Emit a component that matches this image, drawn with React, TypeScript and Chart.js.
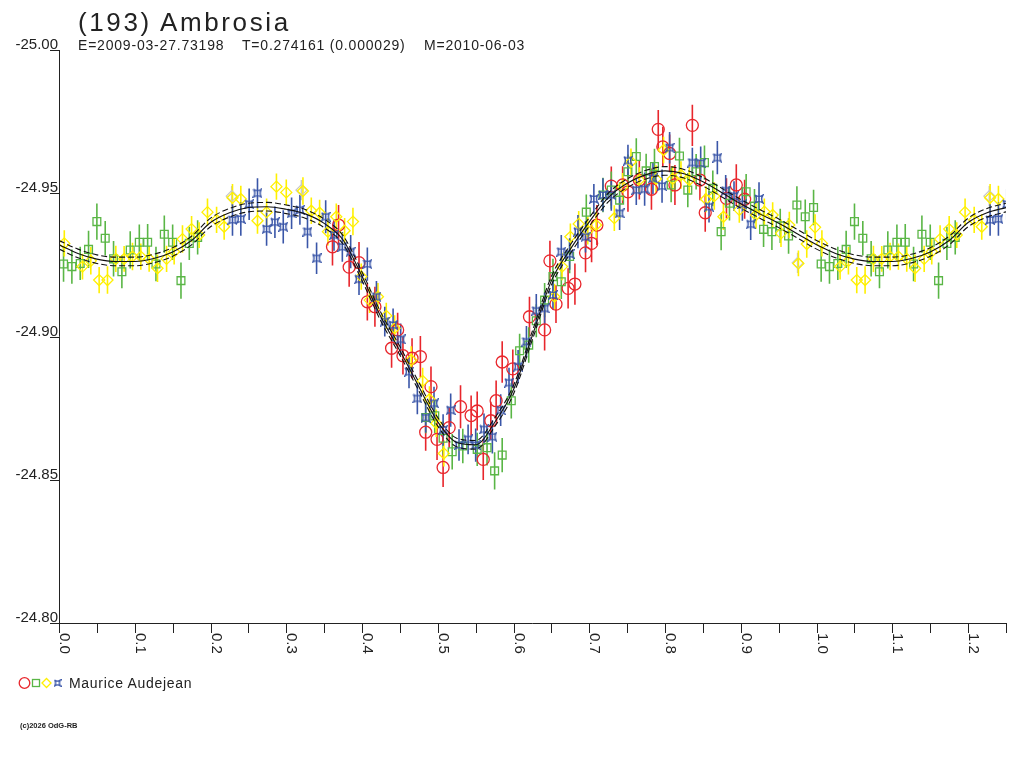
import { useEffect, useRef } from "react";
import { Chart, registerables } from "chart.js";

Chart.register(...registerables);

// [phase, magnitude, error]
type Obs = [number, number, number];

const RED_OBS: Obs[] = [
  [0.361, -24.9313, 0.0065], [0.369, -24.9389, 0.007], [0.383, -24.9242, 0.0068],
  [0.396, -24.9258, 0.0072], [0.407, -24.9121, 0.0065], [0.417, -24.9104, 0.007],
  [0.439, -24.8959, 0.0068], [0.447, -24.9023, 0.006], [0.454, -24.8933, 0.0066],
  [0.466, -24.8924, 0.007], [0.477, -24.893, 0.0072], [0.484, -24.8666, 0.0065],
  [0.491, -24.8825, 0.007], [0.499, -24.8641, 0.0072], [0.507, -24.8543, 0.0068],
  [0.515, -24.8682, 0.007], [0.53, -24.8755, 0.0075], [0.544, -24.8724, 0.007],
  [0.552, -24.874, 0.0068], [0.56, -24.8571, 0.0072], [0.57, -24.8706, 0.0066],
  [0.577, -24.8776, 0.007], [0.585, -24.8911, 0.0072], [0.599, -24.8887, 0.0068],
  [0.621, -24.9069, 0.007], [0.641, -24.9023, 0.0072], [0.648, -24.9264, 0.007],
  [0.656, -24.9113, 0.0066], [0.672, -24.9168, 0.007], [0.681, -24.9183, 0.0072],
  [0.695, -24.9292, 0.0068], [0.703, -24.9325, 0.0066], [0.71, -24.9389, 0.007],
  [0.729, -24.9525, 0.0068], [0.744, -24.9529, 0.0065], [0.751, -24.9505, 0.007],
  [0.766, -24.9546, 0.0068], [0.782, -24.9514, 0.0072], [0.791, -24.9723, 0.0068],
  [0.797, -24.9662, 0.007], [0.806, -24.9639, 0.0066], [0.813, -24.9529, 0.007],
  [0.836, -24.9737, 0.0072], [0.846, -24.9546, 0.007], [0.853, -24.9432, 0.0066],
  [0.881, -24.9482, 0.007], [0.894, -24.9529, 0.0072], [0.905, -24.9479, 0.0068],
];

const GREEN_OBS: Obs[] = [
  [0.006, -24.9253, 0.0062], [0.017, -24.9244, 0.006], [0.028, -24.9255, 0.0058],
  [0.039, -24.9304, 0.0065], [0.05, -24.9401, 0.0063], [0.061, -24.9343, 0.006],
  [0.072, -24.9271, 0.0062], [0.083, -24.9226, 0.0058], [0.094, -24.9302, 0.0065],
  [0.106, -24.9329, 0.0062], [0.117, -24.9329, 0.0064], [0.128, -24.9253, 0.006],
  [0.139, -24.9357, 0.0065], [0.15, -24.9329, 0.0062], [0.161, -24.9195, 0.0063],
  [0.172, -24.9325, 0.0058], [0.183, -24.9346, 0.006],
  [0.484, -24.8717, 0.0055], [0.496, -24.8723, 0.006], [0.507, -24.8645, 0.0058],
  [0.519, -24.8598, 0.0062], [0.533, -24.8618, 0.006], [0.552, -24.8606, 0.0058],
  [0.565, -24.8612, 0.0062], [0.575, -24.8531, 0.0065], [0.585, -24.8586, 0.006],
  [0.597, -24.8776, 0.0062], [0.608, -24.895, 0.006], [0.62, -24.897, 0.0062],
  [0.63, -24.9055, 0.0058], [0.641, -24.9127, 0.006], [0.652, -24.9209, 0.0062],
  [0.663, -24.9191, 0.006], [0.674, -24.9279, 0.0058], [0.696, -24.9434, 0.0062],
  [0.718, -24.9494, 0.006], [0.729, -24.9511, 0.0065], [0.74, -24.9476, 0.0062],
  [0.751, -24.9575, 0.006], [0.762, -24.9628, 0.0064], [0.775, -24.9578, 0.006],
  [0.786, -24.9593, 0.0062], [0.808, -24.9529, 0.006], [0.819, -24.963, 0.0064],
  [0.83, -24.9511, 0.006], [0.841, -24.9575, 0.0062], [0.852, -24.9607, 0.006],
  [0.863, -24.9517, 0.0062], [0.874, -24.9366, 0.0065], [0.885, -24.9465, 0.006],
  [0.907, -24.9505, 0.0062], [0.918, -24.9455, 0.006], [0.93, -24.9374, 0.0062],
  [0.941, -24.9366, 0.0064], [0.952, -24.9386, 0.006], [0.963, -24.9351, 0.0062],
  [0.974, -24.9459, 0.0065], [0.985, -24.9418, 0.006], [0.996, -24.945, 0.0062],
];

const YELLOW_OBS: Obs[] = [
  [0.007, -24.9325, 0.0046], [0.031, -24.9244, 0.0045], [0.042, -24.9264, 0.0048],
  [0.053, -24.9197, 0.0046], [0.064, -24.9197, 0.0048], [0.075, -24.9271, 0.0046],
  [0.086, -24.9271, 0.0045], [0.097, -24.9279, 0.0048], [0.108, -24.9279, 0.0046],
  [0.119, -24.9271, 0.0045], [0.13, -24.9238, 0.0048], [0.142, -24.9271, 0.0046],
  [0.152, -24.9296, 0.0045], [0.163, -24.934, 0.0048], [0.175, -24.9375, 0.0046],
  [0.185, -24.9354, 0.0045], [0.196, -24.9434, 0.0048], [0.208, -24.9407, 0.0046],
  [0.218, -24.9383, 0.0045], [0.229, -24.9484, 0.0048], [0.24, -24.948, 0.0046],
  [0.262, -24.9404, 0.0045], [0.274, -24.9434, 0.0048], [0.287, -24.9523, 0.0046],
  [0.3, -24.9503, 0.0045], [0.322, -24.9508, 0.0048], [0.333, -24.9439, 0.0046],
  [0.344, -24.9432, 0.0045], [0.355, -24.9366, 0.0048], [0.366, -24.9418, 0.0046],
  [0.377, -24.9369, 0.0045], [0.388, -24.9401, 0.0048], [0.399, -24.9209, 0.0046],
  [0.41, -24.9127, 0.0045], [0.421, -24.9139, 0.0048], [0.432, -24.9072, 0.0046],
  [0.443, -24.9029, 0.0045], [0.465, -24.8918, 0.0048], [0.48, -24.8845, 0.0046],
  [0.489, -24.8781, 0.0045], [0.498, -24.8697, 0.0048], [0.508, -24.8592, 0.0046],
  [0.654, -24.9139, 0.0045], [0.664, -24.9244, 0.0048], [0.675, -24.9348, 0.0046],
  [0.686, -24.9393, 0.0045], [0.698, -24.9369, 0.0048], [0.709, -24.9389, 0.0046],
  [0.733, -24.9413, 0.0045], [0.744, -24.9523, 0.0048], [0.755, -24.961, 0.0046],
  [0.766, -24.9546, 0.0045], [0.788, -24.955, 0.0048], [0.798, -24.9651, 0.0046],
  [0.81, -24.955, 0.0045], [0.821, -24.9564, 0.0048], [0.832, -24.9546, 0.0046],
  [0.854, -24.9479, 0.0045], [0.865, -24.949, 0.0048], [0.877, -24.9418, 0.0046],
  [0.898, -24.9442, 0.0045], [0.92, -24.9424, 0.0048], [0.931, -24.9436, 0.0046],
  [0.942, -24.9424, 0.0045], [0.953, -24.936, 0.0048], [0.964, -24.9389, 0.0046],
  [0.976, -24.9255, 0.0045], [0.987, -24.9323, 0.0048], [0.998, -24.9381, 0.0046],
];

const BLUE_OBS: Obs[] = [
  [0.229, -24.9407, 0.0055], [0.24, -24.941, 0.0058], [0.251, -24.9462, 0.0055],
  [0.262, -24.95, 0.0052], [0.274, -24.9375, 0.0058], [0.285, -24.9399, 0.0055],
  [0.296, -24.9383, 0.0058], [0.307, -24.943, 0.0055], [0.318, -24.9442, 0.0052],
  [0.328, -24.9366, 0.0058], [0.34, -24.9273, 0.0055], [0.352, -24.9418, 0.0058],
  [0.363, -24.9354, 0.0055], [0.374, -24.9313, 0.0052], [0.385, -24.9296, 0.0058],
  [0.396, -24.92, 0.0055], [0.407, -24.9253, 0.0058], [0.419, -24.9139, 0.0055],
  [0.43, -24.9052, 0.0052], [0.441, -24.904, 0.0058], [0.451, -24.899, 0.0055],
  [0.462, -24.8877, 0.0058], [0.473, -24.8784, 0.0055], [0.484, -24.8717, 0.0052],
  [0.495, -24.8767, 0.0058], [0.507, -24.8674, 0.0055], [0.517, -24.8743, 0.0058],
  [0.528, -24.8621, 0.0055], [0.54, -24.8641, 0.0052], [0.55, -24.8621, 0.0058],
  [0.561, -24.8676, 0.0055], [0.572, -24.865, 0.0058], [0.583, -24.8743, 0.0055],
  [0.594, -24.8839, 0.0052], [0.606, -24.8895, 0.0058], [0.617, -24.8982, 0.0055],
  [0.63, -24.909, 0.0058], [0.641, -24.9098, 0.0055], [0.652, -24.9145, 0.0052],
  [0.663, -24.9296, 0.0058], [0.674, -24.9288, 0.0055], [0.685, -24.9366, 0.0058],
  [0.695, -24.9348, 0.0055], [0.706, -24.948, 0.0052], [0.718, -24.9494, 0.0058],
  [0.729, -24.9494, 0.0055], [0.74, -24.943, 0.0058], [0.751, -24.9614, 0.0055],
  [0.762, -24.9511, 0.0052], [0.773, -24.9514, 0.0058], [0.784, -24.9552, 0.0055],
  [0.796, -24.9525, 0.0058], [0.806, -24.9659, 0.0055], [0.836, -24.9607, 0.0052],
  [0.847, -24.9605, 0.0058], [0.858, -24.9453, 0.0055], [0.869, -24.9624, 0.0058],
  [0.88, -24.9509, 0.0055], [0.891, -24.949, 0.0052], [0.902, -24.9462, 0.0058],
  [0.913, -24.9392, 0.0055], [0.924, -24.948, 0.0058],
];

const GRAY_OBS: Obs[] = [
  [0.228, -24.949, 0.0035], [0.32, -24.9511, 0.0035], [0.975, -24.9257, 0.0035],
];

const FIT_PHASE = [
  0, 0.025, 0.05, 0.075, 0.1, 0.125, 0.15, 0.175, 0.2, 0.225, 0.25, 0.275, 0.3, 0.325,
  0.35, 0.375, 0.4, 0.425, 0.45, 0.475, 0.5, 0.525, 0.55, 0.575, 0.6, 0.625, 0.65, 0.675,
  0.7, 0.725, 0.75, 0.775, 0.8, 0.825, 0.85, 0.875, 0.9, 0.925, 0.95, 0.975,
];
const FIT_MAG = [
  -24.932, -24.929, -24.927, -24.9262, -24.9262, -24.9272, -24.9295, -24.9335, -24.9398,
  -24.9432, -24.945, -24.9453, -24.9444, -24.9428, -24.9395, -24.9337, -24.921, -24.9068,
  -24.895, -24.8825, -24.8702, -24.863, -24.8622, -24.87, -24.8815, -24.9005, -24.9195,
  -24.9305, -24.94, -24.9485, -24.9535, -24.9565, -24.9578, -24.9568, -24.954, -24.9502,
  -24.9463, -24.9428, -24.9395, -24.9358,
];
const FIT_SIGMA = 0.0015;

const Y_TICKS = [-25.0, -24.95, -24.9, -24.85, -24.8];
const X_TICKS = [
  0, 0.05, 0.1, 0.15, 0.2, 0.25, 0.3, 0.35, 0.4, 0.45, 0.5, 0.55, 0.6, 0.65, 0.7, 0.75,
  0.8, 0.85, 0.9, 0.95, 1.0, 1.05, 1.1, 1.15, 1.2, 1.25,
];
const X_LABELS = ["0.0", "0.1", "0.2", "0.3", "0.4", "0.5", "0.6", "0.7", "0.8", "0.9", "1.0", "1.1", "1.2"];

const RED = "#e8262c";
const GREEN = "#5ab646";
const YELLOW = "#fff000";
const BLUE = "#3a56a8";
const GRAY = "#c8c8c8";
const FONT = "'Liberation Sans', Arial, sans-serif";

// phases below 0.25 are shown again after 1.0
const wrap = (obs: Obs[]) => {
  const pts = obs.map(([x, y, err]) => ({ x, y, err }));
  obs.forEach(([x, y, err]) => {
    if (x <= 0.2515) pts.push({ x: x + 1, y, err });
  });
  return pts;
};

const fitCurve = (shift: number) => {
  const pts: { x: number; y: number }[] = [];
  [0, 1].forEach((cycle) => {
    FIT_PHASE.forEach((p, i) => {
      if (p + cycle <= 1.2501) pts.push({ x: p + cycle, y: FIT_MAG[i] + shift });
    });
  });
  return pts;
};

function blueMarker(size: number) {
  const c = document.createElement("canvas");
  c.width = size;
  c.height = size;
  const ctx = c.getContext("2d")!;
  const a = 1;
  const b = size - 1;
  const m = size / 2;
  const k = size * 0.28;
  ctx.strokeStyle = BLUE;
  ctx.lineWidth = 1.4;
  ctx.beginPath();
  ctx.moveTo(a, a);
  ctx.quadraticCurveTo(m, a + k, b, a);
  ctx.quadraticCurveTo(b - k, m, b, b);
  ctx.quadraticCurveTo(m, b - k, a, b);
  ctx.quadraticCurveTo(a + k, m, a, a);
  ctx.stroke();
  return c;
}

const errorBars = {
  id: "errorBars",
  beforeDatasetsDraw(chart: any) {
    const { ctx } = chart;
    const x = chart.scales.x;
    const y = chart.scales.y;
    ctx.save();
    ctx.beginPath();
    ctx.rect(chart.chartArea.left, chart.chartArea.top, chart.chartArea.width, chart.chartArea.height);
    ctx.clip();
    [...chart.data.datasets].reverse().forEach((ds: any) => {
      if (!ds.errColor) return;
      ctx.strokeStyle = ds.errColor;
      ctx.lineWidth = 1.6;
      ctx.beginPath();
      ds.data.forEach((pt: any) => {
        const px = x.getPixelForValue(pt.x);
        ctx.moveTo(px, y.getPixelForValue(pt.y - pt.err));
        ctx.lineTo(px, y.getPixelForValue(pt.y + pt.err));
      });
      ctx.stroke();
    });
    ctx.restore();
  },
};

const axesAndLegend = {
  id: "axesAndLegend",
  afterDraw(chart: any) {
    const { ctx, chartArea } = chart;
    const x = chart.scales.x;
    const y = chart.scales.y;
    ctx.save();
    ctx.strokeStyle = "#222";
    ctx.fillStyle = "#222";
    ctx.lineWidth = 1;
    // axis lines
    ctx.beginPath();
    ctx.moveTo(chartArea.left + 0.5, chartArea.top);
    ctx.lineTo(chartArea.left + 0.5, chartArea.bottom + 0.5);
    ctx.lineTo(chartArea.right, chartArea.bottom + 0.5);
    ctx.stroke();
    // y ticks + labels (label sits on its tick)
    ctx.font = `15px ${FONT}`;
    ctx.textAlign = "right";
    ctx.textBaseline = "alphabetic";
    Y_TICKS.forEach((v) => {
      const py = Math.round(y.getPixelForValue(v)) + 0.5;
      ctx.beginPath();
      ctx.moveTo(chartArea.left - 9, py);
      ctx.lineTo(chartArea.left, py);
      ctx.stroke();
      ctx.fillText(v.toFixed(2), chartArea.left - 1, py - 2);
    });
    // x ticks
    X_TICKS.forEach((v) => {
      const px = Math.round(x.getPixelForValue(v)) + 0.5;
      ctx.beginPath();
      ctx.moveTo(px, chartArea.bottom);
      ctx.lineTo(px, chartArea.bottom + 10);
      ctx.stroke();
    });
    // x labels, turned clockwise
    ctx.textAlign = "left";
    X_LABELS.forEach((label) => {
      const px = x.getPixelForValue(parseFloat(label));
      ctx.save();
      ctx.translate(px + 1, chartArea.bottom + 10);
      ctx.rotate(Math.PI / 2);
      ctx.fillText(label, 0, 0);
      ctx.restore();
    });
    // legend symbols
    const ly = 683;
    ctx.lineWidth = 1.3;
    ctx.strokeStyle = RED;
    ctx.beginPath();
    ctx.arc(24.5, ly, 5.3, 0, Math.PI * 2);
    ctx.stroke();
    ctx.strokeStyle = GREEN;
    ctx.strokeRect(32.5, ly - 3.5, 7, 7);
    ctx.strokeStyle = YELLOW;
    ctx.beginPath();
    ctx.moveTo(42, ly);
    ctx.lineTo(46.5, ly - 4.5);
    ctx.lineTo(51, ly);
    ctx.lineTo(46.5, ly + 4.5);
    ctx.closePath();
    ctx.stroke();
    ctx.drawImage(blueMarker(8), 53.5, ly - 4);
    ctx.restore();
  },
};

const scatterSet = (label: string, obs: Obs[], color: string, style: any, radius: number, order: number) => ({
  label,
  data: wrap(obs),
  errColor: color,
  pointStyle: style,
  pointRadius: radius,
  pointBorderColor: color,
  pointBackgroundColor: "rgba(0,0,0,0)",
  pointBorderWidth: 1.3,
  showLine: false,
  order,
});

const fitSet = (shift: number, dashed: boolean) => ({
  label: "fit",
  data: fitCurve(shift),
  showLine: true,
  borderColor: "#111",
  borderWidth: 1.1,
  borderDash: dashed ? [6, 3] : [],
  pointRadius: 0,
  cubicInterpolationMode: "monotone",
  order: 0,
});

const App = () => {
  const chartRef = useRef<HTMLCanvasElement>(null);
  const chartInstanceRef = useRef<Chart>();

  useEffect(() => {
    if (!chartRef.current) return;
    const ctx = chartRef.current.getContext("2d");

    if (chartInstanceRef.current) {
      chartInstanceRef.current.destroy();
    }

    chartInstanceRef.current = new Chart(ctx!, {
      type: "scatter",
      data: {
        datasets: [
          fitSet(0, false),
          fitSet(-FIT_SIGMA, true),
          fitSet(FIT_SIGMA, true),
          scatterSet("blue", BLUE_OBS, BLUE, blueMarker(10), 5, 1),
          scatterSet("yellow", YELLOW_OBS, YELLOW, "rectRot", 5.5, 2),
          scatterSet("green", GREEN_OBS, GREEN, "rect", 5.5, 3),
          scatterSet("red", RED_OBS, RED, "circle", 6, 4),
          scatterSet("gray", GRAY_OBS, GRAY, "rectRot", 5.5, 5),
        ] as any,
      },
      options: {
        animation: false,
        responsive: false,
        devicePixelRatio: 1,
        events: [],
        layout: { padding: { left: 59, top: 50, right: 18, bottom: 145 } },
        scales: {
          x: { type: "linear", min: 0, max: 1.25, display: false },
          y: { type: "linear", min: -25, max: -24.8, reverse: true, display: false },
        },
        plugins: {
          legend: { display: false },
          tooltip: { enabled: false },
        },
      },
      plugins: [errorBars, axesAndLegend],
    });

    return () => {
      if (chartInstanceRef.current) {
        chartInstanceRef.current.destroy();
      }
    };
  }, []);

  const text = { position: "absolute" as const, fontFamily: FONT, color: "#222", whiteSpace: "pre" as const };

  return (
    <div style={{ position: "fixed", left: 0, top: 0, width: 1024, height: 768, background: "#fff" }}>
      <canvas ref={chartRef} width={1024} height={768} style={{ position: "absolute", left: 0, top: 0 }}></canvas>
      <div style={{ ...text, left: 78, top: 9, fontSize: 26, lineHeight: "26px", letterSpacing: 2.6 }}>
        (193) Ambrosia
      </div>
      <div style={{ ...text, left: 78, top: 38, fontSize: 14, lineHeight: "14px", letterSpacing: 0.8 }}>
        E=2009-03-27.73198
      </div>
      <div style={{ ...text, left: 242, top: 38, fontSize: 14, lineHeight: "14px", letterSpacing: 0.8 }}>
        T=0.274161 (0.000029)
      </div>
      <div style={{ ...text, left: 424, top: 38, fontSize: 14, lineHeight: "14px", letterSpacing: 0.8 }}>
        M=2010-06-03
      </div>
      <div style={{ ...text, left: 69, top: 676, fontSize: 14, lineHeight: "14px", letterSpacing: 0.7 }}>
        Maurice Audejean
      </div>
      <div style={{ ...text, left: 20, top: 722, fontSize: 7.5, lineHeight: "8px", fontWeight: "bold" }}>
        (c)2026 OdG-RB
      </div>
    </div>
  );
};

export default App;
